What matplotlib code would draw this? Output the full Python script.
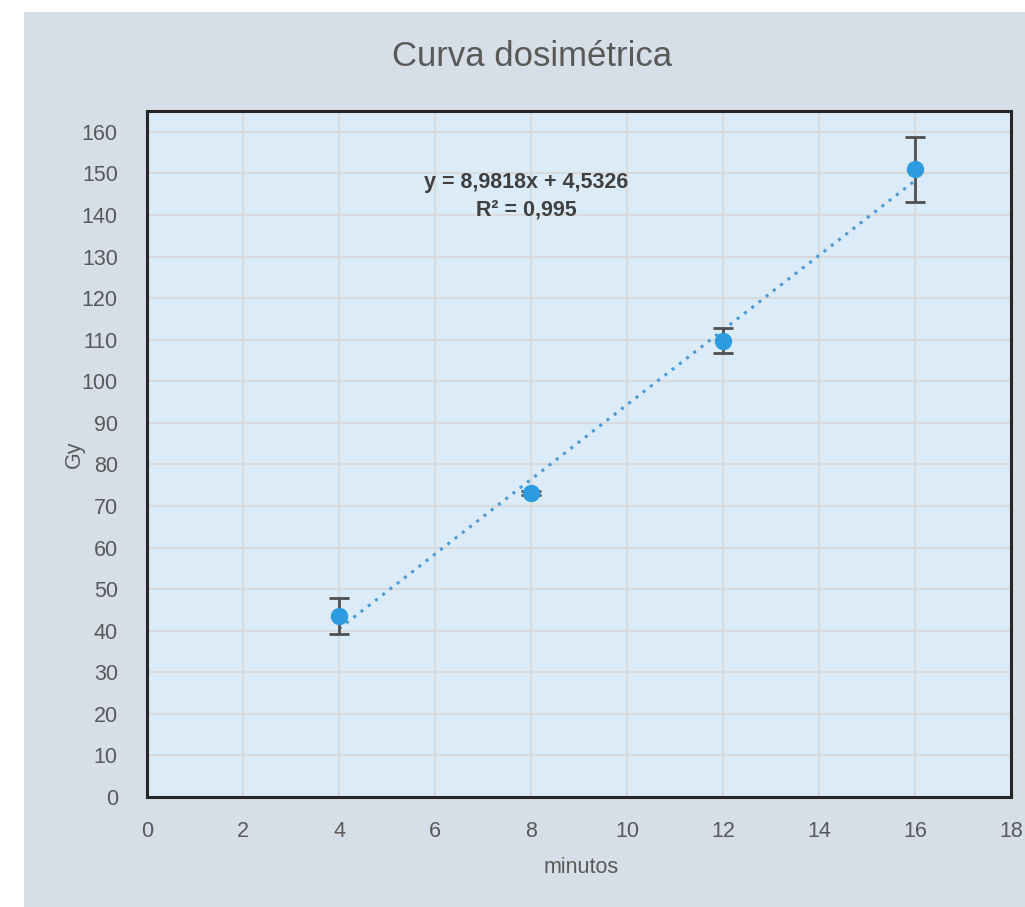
import matplotlib.pyplot as plt
from matplotlib.patches import Rectangle

plt.rcParams['font.family'] = ['Liberation Sans', 'DejaVu Sans']

# dose measurements (Gy) against exposure time (minutes)
minutos = [4, 8, 12, 16]
dosis = [43.5, 73.2, 109.7, 151.0]
error = [4.3, 0.5, 3.0, 7.8]

# linear trendline as reported
pendiente = 8.9818
intercepto = 4.5326
r2 = 0.995

x_ticks = list(range(0, 19, 2))
y_ticks = list(range(0, 161, 10))

fig = plt.figure(figsize=(10.25, 9.07), dpi=100, facecolor='white')
fig.patches.append(Rectangle((24 / 1025, 0), 1, 1 - 12 / 907, transform=fig.transFigure,
                             facecolor='#d6dee8', edgecolor='none', zorder=-10))

ax = fig.add_axes([147 / 1025, 1 - 797 / 907, (1011 - 147) / 1025, (797 - 111) / 907])
ax.set_facecolor('#dbebf7')

ax.set_xlim(0, 18)
ax.set_ylim(0, 165)
ax.set_xticks(x_ticks)
ax.set_yticks(y_ticks)
ax.grid(True, color='#d8dadb', linewidth=1.5)
ax.set_axisbelow(True)
ax.tick_params(length=0, labelsize=15.5, labelcolor='#595959')
ax.tick_params(axis='y', pad=21)
ax.tick_params(axis='x', pad=17)

for s in ax.spines.values():
    s.set_color('#262626')
    s.set_linewidth(2.2)

# trendline over the measured range
x0, x1 = minutos[0], minutos[-1]
ax.plot([x0, x1], [pendiente * x0 + intercepto, pendiente * x1 + intercepto],
        linestyle=(0, (1, 2)), color='#4a9ad6', linewidth=2.2, zorder=2)

ax.errorbar(minutos, dosis, yerr=error, fmt='none', ecolor='#505050',
            elinewidth=2, capsize=7, capthick=2, zorder=3)
ax.plot(minutos, dosis, 'o', color='#2d9be0', markersize=11.5, zorder=4)

eq = f"y = {pendiente:.4f}x + {intercepto:.4f}\nR² = {r2:.3f}".replace('.', ',')
ax.text(7.9, 144.5, eq, ha='center', va='center', fontsize=15.5, fontweight='bold',
        color='#404040', linespacing=1.4)

ax.set_xlabel('minutos', fontsize=15.5, color='#595959')
ax.set_ylabel('Gy', fontsize=15.5, color='#595959')
ax.xaxis.set_label_coords(0.503, -0.088)
ax.yaxis.set_label_coords(-0.072, 0.5)

fig.text(532 / 1025, 1 - 57 / 907, 'Curva dosimétrica', ha='center', va='center',
         fontsize=25, color='#595959')

fig.savefig('out.png', dpi=100, facecolor=fig.get_facecolor())
